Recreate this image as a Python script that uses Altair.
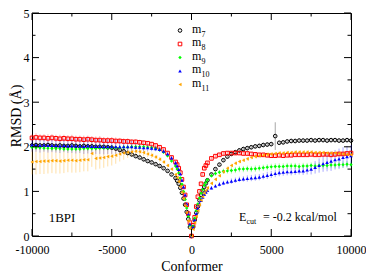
import altair as alt
import pandas as pd

# x grid (conformer index)
X_LEFT = list(range(-10000, -1000, 250))
X_CENTER = list(range(-1000, 1001, 100))
X_RIGHT = list(range(1250, 10001, 250))
X = X_LEFT + X_CENTER + X_RIGHT

# ---- m7 (black circles)
M7_L = [2.03, 2.04, 2.03, 2.03, 2.04, 2.03, 2.02, 2.03, 2.02, 2.02, 2.03, 2.02, 2.01, 2.02, 2.01, 2.01, 2.0, 2.0, 2.0, 1.99, 1.98,
        1.96, 1.93, 1.9, 1.86, 1.83, 1.79, 1.76, 1.72, 1.68, 1.65, 1.61, 1.57, 1.52, 1.46, 1.38]
M7_C = [1.3, 1.24, 1.17, 1.08, 0.97, 0.84, 0.7, 0.54, 0.38, 0.2, 0.0, 0.2, 0.36, 0.52, 0.66, 0.8, 0.92, 1.02, 1.1, 1.18, 1.25]
M7_R = [1.38, 1.5, 1.6, 1.7, 1.78, 1.84, 1.88, 1.92, 1.95, 1.97, 1.99, 2.01, 2.02, 2.04, 2.05, 2.06, 2.24, 2.09, 2.1, 2.12,
        2.13, 2.13, 2.14, 2.14, 2.14, 2.15, 2.14, 2.15, 2.15, 2.14, 2.15, 2.15, 2.14, 2.14, 2.15, 2.14]
M7_EL = [0.05, 0.05, 0.05, 0.04, 0.05, 0.05, 0.04, 0.05, 0.05, 0.04, 0.05, 0.05, 0.04, 0.05, 0.05, 0.04, 0.05, 0.05, 0.04, 0.05, 0.05,
         0.04, 0.05, 0.05, 0.04, 0.05, 0.04, 0.04, 0.05, 0.04, 0.04, 0.04, 0.04, 0.03, 0.03, 0.03]
M7_EC = [0.03, 0.03, 0.03, 0.03, 0.02, 0.02, 0.02, 0.02, 0.02, 0.01, 0.0, 0.01, 0.02, 0.02, 0.02, 0.02, 0.02, 0.03, 0.03, 0.03, 0.03]
M7_ER = [0.03, 0.03, 0.04, 0.04, 0.04, 0.04, 0.04, 0.05, 0.05, 0.05, 0.05, 0.05, 0.05, 0.05, 0.05, 0.05, 0.31, 0.05, 0.05, 0.05,
         0.05, 0.05, 0.05, 0.05, 0.05, 0.05, 0.05, 0.05, 0.05, 0.05, 0.05, 0.05, 0.05, 0.05, 0.05, 0.06]

# ---- m8 (red squares)
M8_L = [2.2, 2.21, 2.2, 2.2, 2.19, 2.2, 2.19, 2.18, 2.19, 2.18, 2.18, 2.17, 2.17, 2.16, 2.17, 2.16, 2.15, 2.15, 2.14, 2.14, 2.14,
        2.13, 2.13, 2.12, 2.12, 2.11, 2.11, 2.1, 2.09, 2.08, 2.06, 2.03, 1.99, 1.94, 1.86, 1.76]
M8_C = [1.66, 1.6, 1.52, 1.42, 1.27, 1.1, 0.92, 0.7, 0.5, 0.3, 0.0, 0.24, 0.42, 0.66, 0.88, 1.0, 1.17, 1.38, 1.52, 1.58, 1.64]
M8_R = [1.74, 1.79, 1.82, 1.85, 1.86, 1.86, 1.86, 1.86, 1.85, 1.85, 1.84, 1.83, 1.82, 1.82, 1.81, 1.8, 1.8, 1.81, 1.8, 1.81,
        1.81, 1.82, 1.82, 1.82, 1.82, 1.83, 1.82, 1.82, 1.83, 1.83, 1.82, 1.83, 1.84, 1.84, 1.85, 1.86]
M8_EL = [0.08, 0.09, 0.08, 0.08, 0.09, 0.08, 0.08, 0.09, 0.08, 0.08, 0.09, 0.08, 0.08, 0.09, 0.08, 0.08, 0.08, 0.09, 0.08, 0.08, 0.08,
         0.08, 0.07, 0.07, 0.07, 0.06, 0.06, 0.06, 0.05, 0.05, 0.05, 0.04, 0.04, 0.04, 0.04, 0.03]
M8_EC = [0.03, 0.03, 0.03, 0.03, 0.03, 0.02, 0.02, 0.02, 0.02, 0.02, 0.0, 0.02, 0.02, 0.02, 0.02, 0.02, 0.03, 0.03, 0.03, 0.03, 0.03]
M8_ER = [0.03, 0.03, 0.03, 0.04, 0.04, 0.04, 0.04, 0.04, 0.04, 0.04, 0.04, 0.04, 0.04, 0.04, 0.04, 0.04, 0.04, 0.04, 0.04, 0.04,
         0.04, 0.04, 0.04, 0.04, 0.04, 0.04, 0.04, 0.04, 0.04, 0.04, 0.05, 0.05, 0.05, 0.05, 0.05, 0.05]

# ---- m9 (green diamonds)
M9_L = [1.99, 1.98, 1.98, 1.97, 1.97, 1.96, 1.96, 1.96, 1.95, 1.95, 1.95, 1.95, 1.95, 1.96, 1.96, 1.96, 1.96, 1.97, 1.97, 1.97, 1.98,
        1.98, 1.98, 1.99, 1.99, 2.0, 2.0, 2.0, 2.0, 1.99, 1.98, 1.96, 1.93, 1.88, 1.8, 1.68]
M9_C = [1.57, 1.5, 1.41, 1.3, 1.16, 1.0, 0.82, 0.63, 0.44, 0.24, 0.0, 0.22, 0.4, 0.57, 0.72, 0.85, 0.96, 1.04, 1.14, 1.2, 1.26]
M9_R = [1.35, 1.4, 1.43, 1.45, 1.46, 1.47, 1.48, 1.5, 1.5, 1.51, 1.5, 1.51, 1.52, 1.53, 1.54, 1.55, 1.56, 1.56, 1.56, 1.57,
        1.57, 1.57, 1.56, 1.57, 1.57, 1.58, 1.57, 1.58, 1.58, 1.58, 1.59, 1.59, 1.6, 1.6, 1.61, 1.6]
M9_EL = [0.05, 0.05, 0.05, 0.05, 0.05, 0.05, 0.05, 0.05, 0.05, 0.05, 0.05, 0.05, 0.05, 0.05, 0.05, 0.05, 0.05, 0.05, 0.05, 0.05, 0.05,
         0.05, 0.05, 0.05, 0.05, 0.05, 0.05, 0.04, 0.04, 0.04, 0.04, 0.04, 0.04, 0.03, 0.03, 0.03]
M9_EC = [0.03, 0.03, 0.03, 0.03, 0.03, 0.02, 0.02, 0.02, 0.02, 0.02, 0.0, 0.02, 0.02, 0.02, 0.02, 0.02, 0.03, 0.03, 0.03, 0.03, 0.03]
M9_ER = [0.04, 0.05, 0.05, 0.06, 0.06, 0.07, 0.07, 0.07, 0.07, 0.07, 0.07, 0.07, 0.07, 0.07, 0.07, 0.07, 0.07, 0.07, 0.07, 0.07,
         0.07, 0.07, 0.07, 0.07, 0.07, 0.07, 0.07, 0.07, 0.07, 0.07, 0.07, 0.07, 0.07, 0.07, 0.07, 0.07]

# ---- m10 (blue triangles)
M10_L = [2.04, 2.04, 2.03, 2.04, 2.03, 2.03, 2.03, 2.02, 2.03, 2.02, 2.02, 2.02, 2.02, 2.01, 2.02, 2.01, 2.01, 2.01, 2.0, 2.0, 2.0,
         2.0, 2.0, 2.0, 2.0, 2.0, 1.99, 1.99, 1.98, 1.98, 1.97, 1.96, 1.94, 1.9, 1.84, 1.75]
M10_C = [1.64, 1.57, 1.49, 1.39, 1.25, 1.1, 0.92, 0.72, 0.5, 0.27, 0.0, 0.2, 0.36, 0.5, 0.62, 0.72, 0.8, 0.87, 0.93, 0.98, 1.02]
M10_R = [1.08, 1.12, 1.16, 1.19, 1.21, 1.23, 1.25, 1.27, 1.28, 1.29, 1.3, 1.31, 1.32, 1.34, 1.36, 1.38, 1.4, 1.42, 1.43, 1.44,
         1.44, 1.45, 1.46, 1.46, 1.48, 1.5, 1.54, 1.58, 1.62, 1.65, 1.68, 1.71, 1.73, 1.76, 1.78, 1.8]
M10_EL = [0.15, 0.15, 0.16, 0.15, 0.16, 0.15, 0.16, 0.16, 0.15, 0.16, 0.16, 0.17, 0.16, 0.17, 0.17, 0.17, 0.17, 0.17, 0.17, 0.16, 0.16,
          0.16, 0.15, 0.15, 0.14, 0.13, 0.12, 0.1, 0.09, 0.08, 0.07, 0.06, 0.05, 0.05, 0.04, 0.04]
M10_EC = [0.04, 0.04, 0.03, 0.03, 0.03, 0.03, 0.02, 0.02, 0.02, 0.02, 0.0, 0.02, 0.02, 0.02, 0.02, 0.03, 0.03, 0.03, 0.03, 0.04, 0.04]
M10_ER = [0.04, 0.04, 0.05, 0.05, 0.05, 0.06, 0.06, 0.06, 0.06, 0.07, 0.07, 0.07, 0.07, 0.07, 0.08, 0.08, 0.08, 0.08, 0.08, 0.08,
          0.08, 0.08, 0.08, 0.09, 0.1, 0.12, 0.14, 0.16, 0.18, 0.2, 0.22, 0.22, 0.23, 0.23, 0.24, 0.24]

# ---- m11 (orange left triangles)
M11_L = [1.66, 1.67, 1.67, 1.68, 1.68, 1.69, 1.69, 1.68, 1.69, 1.7, 1.7, 1.69, 1.7, 1.71, 1.71, 1.85, 1.74, 1.75, 1.76, 1.78, 1.79,
         1.81, 1.84, 1.86, 1.88, 1.89, 1.9, 1.89, 1.87, 1.84, 1.81, 1.77, 1.72, 1.66, 1.58, 1.5]
M11_C = [1.38, 1.31, 1.22, 1.11, 0.98, 0.84, 0.68, 0.52, 0.34, 0.17, 0.0, 0.15, 0.3, 0.44, 0.57, 0.7, 0.8, 0.88, 0.96, 1.02, 1.08]
M11_R = [1.18, 1.27, 1.35, 1.44, 1.52, 1.58, 1.63, 1.67, 1.7, 1.73, 1.76, 1.78, 1.8, 1.81, 1.83, 1.84, 1.85, 1.86, 1.86, 1.87,
         1.87, 1.88, 1.88, 1.88, 1.88, 1.88, 1.87, 1.87, 1.87, 1.86, 1.86, 1.86, 1.85, 1.84, 1.83, 1.82]
M11_EL = [0.28, 0.29, 0.28, 0.29, 0.28, 0.28, 0.29, 0.28, 0.28, 0.27, 0.28, 0.27, 0.27, 0.26, 0.26, 0.3, 0.25, 0.24, 0.23, 0.22, 0.21,
          0.19, 0.17, 0.15, 0.13, 0.12, 0.1, 0.09, 0.08, 0.07, 0.06, 0.05, 0.05, 0.04, 0.04, 0.03]
M11_EC = [0.03, 0.03, 0.03, 0.03, 0.02, 0.02, 0.02, 0.02, 0.02, 0.01, 0.0, 0.01, 0.02, 0.02, 0.02, 0.02, 0.02, 0.03, 0.03, 0.03, 0.03]
M11_ER = [0.03, 0.03, 0.03, 0.04, 0.04, 0.04, 0.04, 0.04, 0.04, 0.04, 0.04, 0.04, 0.04, 0.04, 0.04, 0.04, 0.04, 0.04, 0.04, 0.04,
          0.04, 0.04, 0.04, 0.04, 0.04, 0.04, 0.04, 0.04, 0.04, 0.04, 0.04, 0.04, 0.04, 0.04, 0.04, 0.04]

NAMES = ["m7", "m8", "m9", "m10", "m11"]
SUBS = ["7", "8", "9", "10", "11"]
COLORS = ["#000000", "#ff0000", "#00ff00", "#0000ff", "#ffa500"]
SHAPES = ["circle", "square", "diamond", "triangle-up", "triangle-left"]
FILLED = [False, False, True, True, True]
SIZES = [13, 13, 12, 13, 13]
VALUES = [M7_L + M7_C + M7_R, M8_L + M8_C + M8_R, M9_L + M9_C + M9_R, M10_L + M10_C + M10_R, M11_L + M11_C + M11_R]
ERRORS = [M7_EL + M7_EC + M7_ER, M8_EL + M8_EC + M8_ER, M9_EL + M9_EC + M9_ER, M10_EL + M10_EC + M10_ER, M11_EL + M11_EC + M11_ER]

X_MAJOR = [-10000, -5000, 0, 5000, 10000]
X_MINOR = [-7500, -2500, 2500, 7500]
Y_MAJOR = [0, 1, 2, 3, 4, 5]
Y_MINOR = [0.5, 1.5, 2.5, 3.5, 4.5]

rows = []
for name, ys, es in zip(NAMES, VALUES, ERRORS):
    for x, y, e in zip(X, ys, es):
        rows.append({"series": name, "x": x, "y": y, "err": e})
df = pd.DataFrame(rows)

W, H = 319, 223
FONT = "Liberation Serif"

xscale = alt.Scale(domain=[-10000, 10000], nice=False, zero=False)
yscale = alt.Scale(domain=[0, 5], nice=False, zero=False)

xaxis = alt.Axis(values=X_MAJOR, labelExpr="'' + datum.value", ticks=False, domain=False, grid=False,
                 labelFont=FONT, labelFontSize=12, labelColor="black", labelPadding=8,
                 labelFlush=False, labelOverlap=False,
                 title="Conformer", titleFont=FONT, titleFontSize=14, titleFontWeight="normal",
                 titleColor="black", titleY=34, titleBaseline="alphabetic")
yaxis = alt.Axis(values=Y_MAJOR, labelExpr="'' + datum.value", ticks=False, domain=False, grid=False,
                 labelFont=FONT, labelFontSize=12, labelColor="black", labelPadding=3,
                 labelFlush=False, labelOverlap=False,
                 title="RMSD (Å)", titleFont=FONT, titleFontSize=14, titleFontWeight="normal",
                 titleColor="black", titleX=-11.5, titleY=102.5, titleAngle=270,
                 titleBaseline="alphabetic", titleAlign="center")

XENC = alt.X("x:Q", scale=xscale, axis=xaxis)

layers = []

# error bars
for name, color in zip(NAMES, COLORS):
    eb = alt.Chart(df).transform_filter(alt.datum.series == name).transform_calculate(
        lo="datum.y - datum.err", hi="datum.y + datum.err"
    ).mark_rule(color=color, opacity=0.35, strokeWidth=1).encode(
        x=XENC,
        y=alt.Y("lo:Q", scale=yscale, axis=yaxis),
        y2="hi:Q",
    )
    layers.append(eb)

# points
for name, color, shape, filled, size in zip(NAMES, COLORS, SHAPES, FILLED, SIZES):
    pts = alt.Chart(df).transform_filter(alt.datum.series == name).mark_point(
        shape=shape, filled=filled, size=size, strokeWidth=1, color=color, opacity=1
    ).encode(
        x=XENC,
        y=alt.Y("y:Q", scale=yscale, axis=yaxis),
    )
    layers.append(pts)


def xticks(vals, y0, y1):
    return alt.Chart(pd.DataFrame({"x": vals})).mark_rule(color="black", strokeWidth=1).encode(
        x=XENC, y=alt.value(y0), y2=alt.value(y1))


def yticks(vals, x0, x1):
    return alt.Chart(pd.DataFrame({"y": vals})).mark_rule(color="black", strokeWidth=1).encode(
        y=alt.Y("y:Q", scale=yscale, axis=yaxis), x=alt.value(x0), x2=alt.value(x1))


layers += [
    xticks(X_MAJOR, H, H - 7), xticks(X_MINOR, H, H - 3.5),
    xticks(X_MAJOR, 0, 7), xticks(X_MINOR, 0, 3.5),
    yticks(Y_MAJOR, 0, 7), yticks(Y_MINOR, 0, 3.5),
    yticks(Y_MAJOR, W, W - 7), yticks(Y_MINOR, W, W - 3.5),
]

one = pd.DataFrame({"k": [0]})
LEG_Y = [17.5, 31, 44.5, 58, 71.5]
LEG_X = 148
for i, (sub, color, shape, filled, size) in enumerate(zip(SUBS, COLORS, SHAPES, FILLED, SIZES)):
    ly = LEG_Y[i]
    layers.append(alt.Chart(one).mark_point(shape=shape, filled=filled, size=size, strokeWidth=1,
                                            color=color, opacity=1).encode(x=alt.value(LEG_X), y=alt.value(ly)))
    layers.append(alt.Chart(one).mark_text(text="m", font=FONT, fontSize=12, align="left",
                                           baseline="alphabetic", color="black").encode(
        x=alt.value(LEG_X + 12), y=alt.value(ly + 2)))
    layers.append(alt.Chart(one).mark_text(text=sub, font=FONT, fontSize=8, align="left",
                                           baseline="alphabetic", color="black").encode(
        x=alt.value(LEG_X + 21.5), y=alt.value(ly + 6)))

layers.append(alt.Chart(one).mark_text(text="1BPI", font=FONT, fontSize=13, align="center",
                                       baseline="alphabetic", color="black").encode(
    x=alt.value(30), y=alt.value(208.7)))
layers.append(alt.Chart(one).mark_text(text="E", font=FONT, fontSize=12, align="left",
                                       baseline="alphabetic", color="black").encode(
    x=alt.value(207), y=alt.value(207.7)))
layers.append(alt.Chart(one).mark_text(text="cut", font=FONT, fontSize=8, align="left",
                                       baseline="alphabetic", color="black").encode(
    x=alt.value(214.5), y=alt.value(210.5)))
layers.append(alt.Chart(one).mark_text(text="= -0.2 kcal/mol", font=FONT, fontSize=12, align="left",
                                       baseline="alphabetic", color="black").encode(
    x=alt.value(231), y=alt.value(207.7)))

chart = alt.layer(*layers).properties(
    width=W, height=H,
    padding={"left": 24, "top": 5, "right": 15, "bottom": 37},
    autosize=alt.AutoSizeParams(type="none"),
).configure_view(stroke="black", strokeWidth=1)

chart.save("out.html", embed_options={"renderer": "svg", "actions": False})
